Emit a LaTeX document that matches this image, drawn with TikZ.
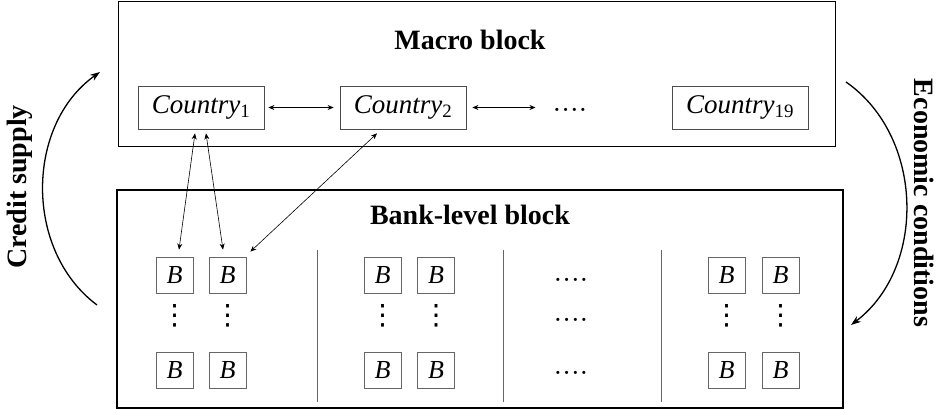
\documentclass[tikz,border=0pt]{standalone}
\usepackage{fontspec}
\setmainfont{Liberation Serif}
\newfontfamily\symfont{DejaVu Sans}
\usetikzlibrary{arrows.meta,calc}
\begin{document}
\begin{tikzpicture}[x=1pt,y=1pt,
 bigbox/.style={draw, line width=1.6pt, inner sep=0pt},
 ctry/.style={draw=black!70, line width=0.8pt, minimum height=43pt, inner sep=0pt, font=\fontsize{27}{30}\selectfont},
 bank/.style={draw=black!60, line width=0.8pt, minimum width=37pt, minimum height=36pt, inner sep=0pt, font=\fontsize{26}{30}\selectfont\itshape},
 title/.style={font=\fontsize{28}{32}\selectfont\bfseries, inner sep=0pt},
 dotsn/.style={font=\fontsize{26}{30}\selectfont, inner sep=0pt},
 vdotsn/.style={font=\fontsize{28}{32}\selectfont\symfont, inner sep=0pt},
 thinarr/.style={{Stealth[length=6pt,width=5pt]}-{Stealth[length=6pt,width=5pt]}, line width=0.6pt},
 curvearr/.style={-{Stealth[length=10pt,width=7pt]}, line width=1.3pt},
 sep/.style={draw=black!60, line width=0.8pt}
]
\useasboundingbox (0,0) rectangle (938,410);

% big blocks
\node[bigbox, minimum width=717pt, minimum height=145pt] (macro) at (477,336) {};
\node[bigbox, minimum width=726pt, minimum height=218pt] (banks) at (480,111) {};
\node[title, anchor=base] (mt) at (470,360) {Macro block};
\node[title, anchor=base] (bt) at (470,185) {Bank-level block};

% countries
\node[ctry, minimum width=126pt] (c1) at (201,302.5) {\textit{Country}\textsubscript{1}};
\node[ctry, minimum width=126pt] (c2) at (403,302.5) {\textit{Country}\textsubscript{2}};
\node[ctry, minimum width=136pt] (c19) at (740,302.5) {\textit{Country}\textsubscript{19}};
\node[dotsn] (cd) at (570,297) {····};

\draw[thinarr, shorten <=4pt, shorten >=6pt] (c1.east) -- (c2.west);
\draw[thinarr, shorten <=6pt, shorten >=17pt] (c2.east) -- (c2.east -| cd.west);

% bank boxes
\node[bank] (b11) at (174.5,135) {B};
\node[bank] (b12) at (227.5,135) {B};
\node[bank] (b13) at (174.5,40) {B};
\node[bank] (b14) at (227.5,40) {B};
\node[bank] (b21) at (382.5,135) {B};
\node[bank] (b22) at (436,135) {B};
\node[bank] (b23) at (382.5,40) {B};
\node[bank] (b24) at (436,40) {B};
\node[bank] (b41) at (726.5,135) {B};
\node[bank] (b42) at (780.5,135) {B};
\node[bank] (b43) at (726.5,40) {B};
\node[bank] (b44) at (780.5,40) {B};

\node[vdotsn] (v1) at (174.5,94) {⋮};
\node[vdotsn] (v2) at (227.5,94) {⋮};
\node[vdotsn] (v3) at (382.5,94) {⋮};
\node[vdotsn] (v4) at (436,94) {⋮};
\node[vdotsn] (v5) at (726.5,94) {⋮};
\node[vdotsn] (v6) at (780.5,94) {⋮};

\node[dotsn] (d1) at (571,127) {····};
\node[dotsn] (d2) at (571,87) {····};
\node[dotsn] (d3) at (571,34) {····};

% separators
\draw[sep] (317,160) -- (317,8);
\draw[sep] (503,160) -- (503,8);
\draw[sep] (661,160) -- (661,8);

% links country -> banks
\draw[thinarr] ($(c1.south)+(-6,-4)$) -- ($(b11.north)+(4.5,7)$);
\draw[thinarr] ($(c1.south)+(5,-4)$) -- ($(b12.north)+(-4.5,7)$);
\draw[thinarr] ($(c2.south)+(-26,-4)$) -- ($(b12.north east)+(4,5)$);

% feedback loops
\coordinate (cs) at (97,105);
\coordinate (ce) at (100,338);
\draw[curvearr] (cs) to[bend left=54] (ce);
\node[title, rotate=90] (credit) at (20,223) {Credit supply};

\coordinate (es) at (846,328);
\coordinate (ee) at (851,85);
\draw[curvearr] (es) to[bend left=54] (ee);
\node[title, rotate=-90] (econ) at (924,207) {Economic conditions};
\end{tikzpicture}
\end{document}
